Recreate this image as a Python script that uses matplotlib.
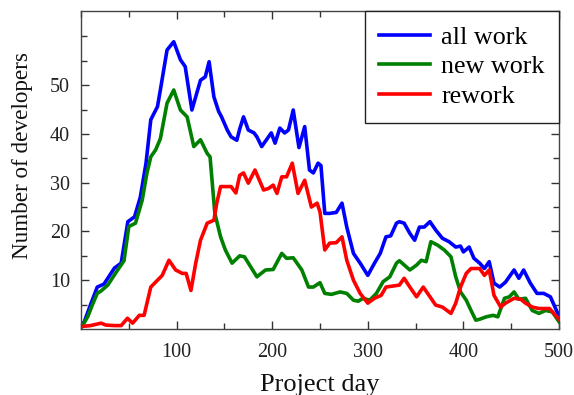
import matplotlib
matplotlib.use("Agg")
import matplotlib.pyplot as plt
from matplotlib.ticker import FixedLocator

# ---- data ----
all_days = [0, 3.5, 10, 17, 24, 30, 35, 42, 49, 56, 62, 68, 73, 80, 83, 90, 97, 104, 109, 116,
            125, 130, 134, 139, 144, 147, 153, 157, 163, 166, 170, 175, 181, 184, 189, 194, 199,
            203, 208, 213, 217, 222, 228, 234, 239, 243, 248, 251, 255, 260, 267, 273, 278, 285,
            292, 300, 307, 313, 319, 324, 330, 333, 338, 344, 349, 354, 359, 365, 371, 378, 385,
            392, 397, 400, 406, 411, 417, 422, 427, 432, 438, 444, 453, 458, 463, 470, 477, 484,
            491, 498, 500]
all_work = [0.8, 1.5, 5, 8.6, 9.2, 11, 12.5, 13.5, 22, 23, 27, 34, 42.9, 45.6, 49, 57.2, 58.9,
            55.2, 53.8, 44.9, 51, 51.7, 54.8, 47.6, 44.6, 43.5, 40.8, 39.4, 38.7, 41, 43.5, 40.8,
            40.2, 39.4, 37.4, 38.8, 40.2, 38.1, 41.2, 40.2, 40.8, 44.9, 37.2, 41.5, 32.6, 32, 34,
            33.5, 23.7, 23.7, 23.9, 25.8, 20.9, 15.5, 13.5, 11, 13.5, 15.5, 18.9, 19.1, 21.7, 22,
            21.7, 19.6, 18.2, 20.9, 20.9, 22, 20.3, 18.6, 17.9, 16.8, 17, 15.8, 16.8, 14.5, 13.5,
            12.4, 13.8, 9.4, 8.6, 9.6, 12.1, 10.4, 12.1, 9.4, 7.3, 7.3, 6.6, 3.5, 3]

new_days = [0, 7, 12, 17, 21, 28, 38, 45, 50, 57, 64, 69, 73, 78, 83, 90, 97, 104, 111, 118,
            125, 132, 135, 140, 146, 151, 158, 166, 171, 184, 193, 201, 210, 215, 222, 231, 238,
            243, 250, 255, 262, 271, 278, 285, 290, 295, 302, 309, 316, 323, 330, 333, 344, 351,
            356, 361, 366, 373, 380, 387, 392, 397, 403, 408, 413, 417, 424, 431, 436, 443, 448,
            453, 458, 465, 472, 479, 486, 493, 500]
new_work = [0.2, 2.5, 5, 7.3, 7.8, 9, 12, 14, 21, 21.7, 26.4, 32, 35.3, 36.7, 39, 46.3, 49,
            44.9, 43.5, 37.4, 38.8, 36, 35.3, 23.7, 18.9, 16.2, 13.5, 15, 14.8, 10.7, 12.1, 12.2,
            15.5, 14.5, 14.6, 12.1, 8.6, 8.6, 9.5, 7.3, 7.1, 7.6, 7.3, 5.9, 5.7, 6.3, 5.9, 7.3,
            9.7, 10.7, 13.5, 14, 12.1, 13.1, 14.1, 13.8, 17.9, 17.2, 16.2, 14.8, 10.7, 7.6, 5.9,
            3.8, 1.8, 2, 2.5, 2.8, 2.5, 6.3, 6.6, 7.6, 6.1, 6.3, 3.8, 3.2, 3.8, 3.5, 1.5]

re_days = [0, 10, 21, 26, 35, 42, 48.6, 54, 61, 66, 73, 80, 85, 92, 99, 106, 110, 115, 120, 125,
           132, 139, 142, 146, 153, 157, 162, 166, 170, 175, 182, 191, 196, 201, 205, 210, 215,
           221, 227, 234, 241, 247, 250, 255, 260, 267, 273, 278, 285, 292, 300, 307, 314, 319,
           333, 338, 344, 351, 358, 364, 371, 378, 387, 392, 397, 403, 408, 417, 422, 427, 432,
           439, 444, 453, 460, 465, 472, 479, 490, 500]
rework = [0.5, 0.7, 1.2, 0.8, 0.7, 0.7, 2.2, 1.2, 2.8, 2.8, 8.6, 10, 11, 14.1, 12.1, 11.4, 11.4,
          7.9, 13.5, 18.2, 21.7, 22.3, 25.8, 29.2, 29.2, 29.2, 27.9, 31.5, 32, 29.9, 32.6, 28.5,
          28.8, 29.5, 27.8, 31.2, 31.2, 34, 27.8, 30.5, 25, 25.8, 24, 16.2, 17.6, 17.7, 18.9,
          14.1, 10, 7.3, 5.3, 6.3, 6.9, 8.6, 9, 10.4, 8.6, 6.6, 8.6, 6.9, 4.9, 4.5, 3.2, 5.3,
          8.6, 11.4, 12.4, 12.4, 11, 12.1, 6.9, 4.5, 5.3, 6.3, 6.1, 5.3, 4.5, 4.2, 4.2, 2]

series_labels = ["all work", "new work", "rework"]
x_major = [100, 200, 300, 400, 500]
x_minor = [0, 50, 150, 250, 350, 450]
y_major = [10, 20, 30, 40, 50]
y_minor = [5, 15, 25, 35, 45, 55, 60]

# ---- plot ----
plt.rcParams['font.family'] = ['Liberation Serif', 'DejaVu Serif']
fig = plt.figure(figsize=(5.74, 3.95), dpi=100)
ax = fig.add_axes([81/574, 66/395, 478/574, 318/395])

lw = 2.6
ax.plot(all_days, all_work, color='#0000ff', lw=lw, label=series_labels[0], solid_joinstyle='round')
ax.plot(new_days, new_work, color='#008000', lw=lw, label=series_labels[1], solid_joinstyle='round')
ax.plot(re_days, rework, color='#ff0000', lw=lw, label=series_labels[2], solid_joinstyle='round')

ax.set_xlim(0, 500)
ax.set_ylim(0, 65.2)
ax.xaxis.set_major_locator(FixedLocator(x_major))
ax.xaxis.set_minor_locator(FixedLocator(x_minor))
ax.yaxis.set_major_locator(FixedLocator(y_major))
ax.yaxis.set_minor_locator(FixedLocator(y_minor))
ax.tick_params(which='both', direction='in', top=True, right=True, colors='#333333',
               labelcolor='#222222', labelsize=14.5)
ax.tick_params(which='major', length=6, width=1)
ax.tick_params(which='minor', length=4, width=1)
ax.tick_params(axis='x', which='both', pad=10)
ax.tick_params(axis='y', which='both', pad=8)
for s in ax.spines.values():
    s.set_color('#444444')
    s.set_linewidth(1.0)

ax.set_xlabel("Project day", fontsize=19, color='#111111', labelpad=9)
ax.set_ylabel("Number of developers", fontsize=16.7, color='#111111')
ax.yaxis.set_label_coords(-0.100, 0.545)

leg = ax.legend(loc='upper right', bbox_to_anchor=(1.0, 1.0), borderaxespad=0,
                fancybox=False, framealpha=1, edgecolor='#222222', fontsize=18.8,
                handlelength=1.95, handletextpad=0.42, labelspacing=0.25, borderpad=0.55)
leg.get_frame().set_linewidth(1.0)

fig.savefig("out.png", dpi=100)
